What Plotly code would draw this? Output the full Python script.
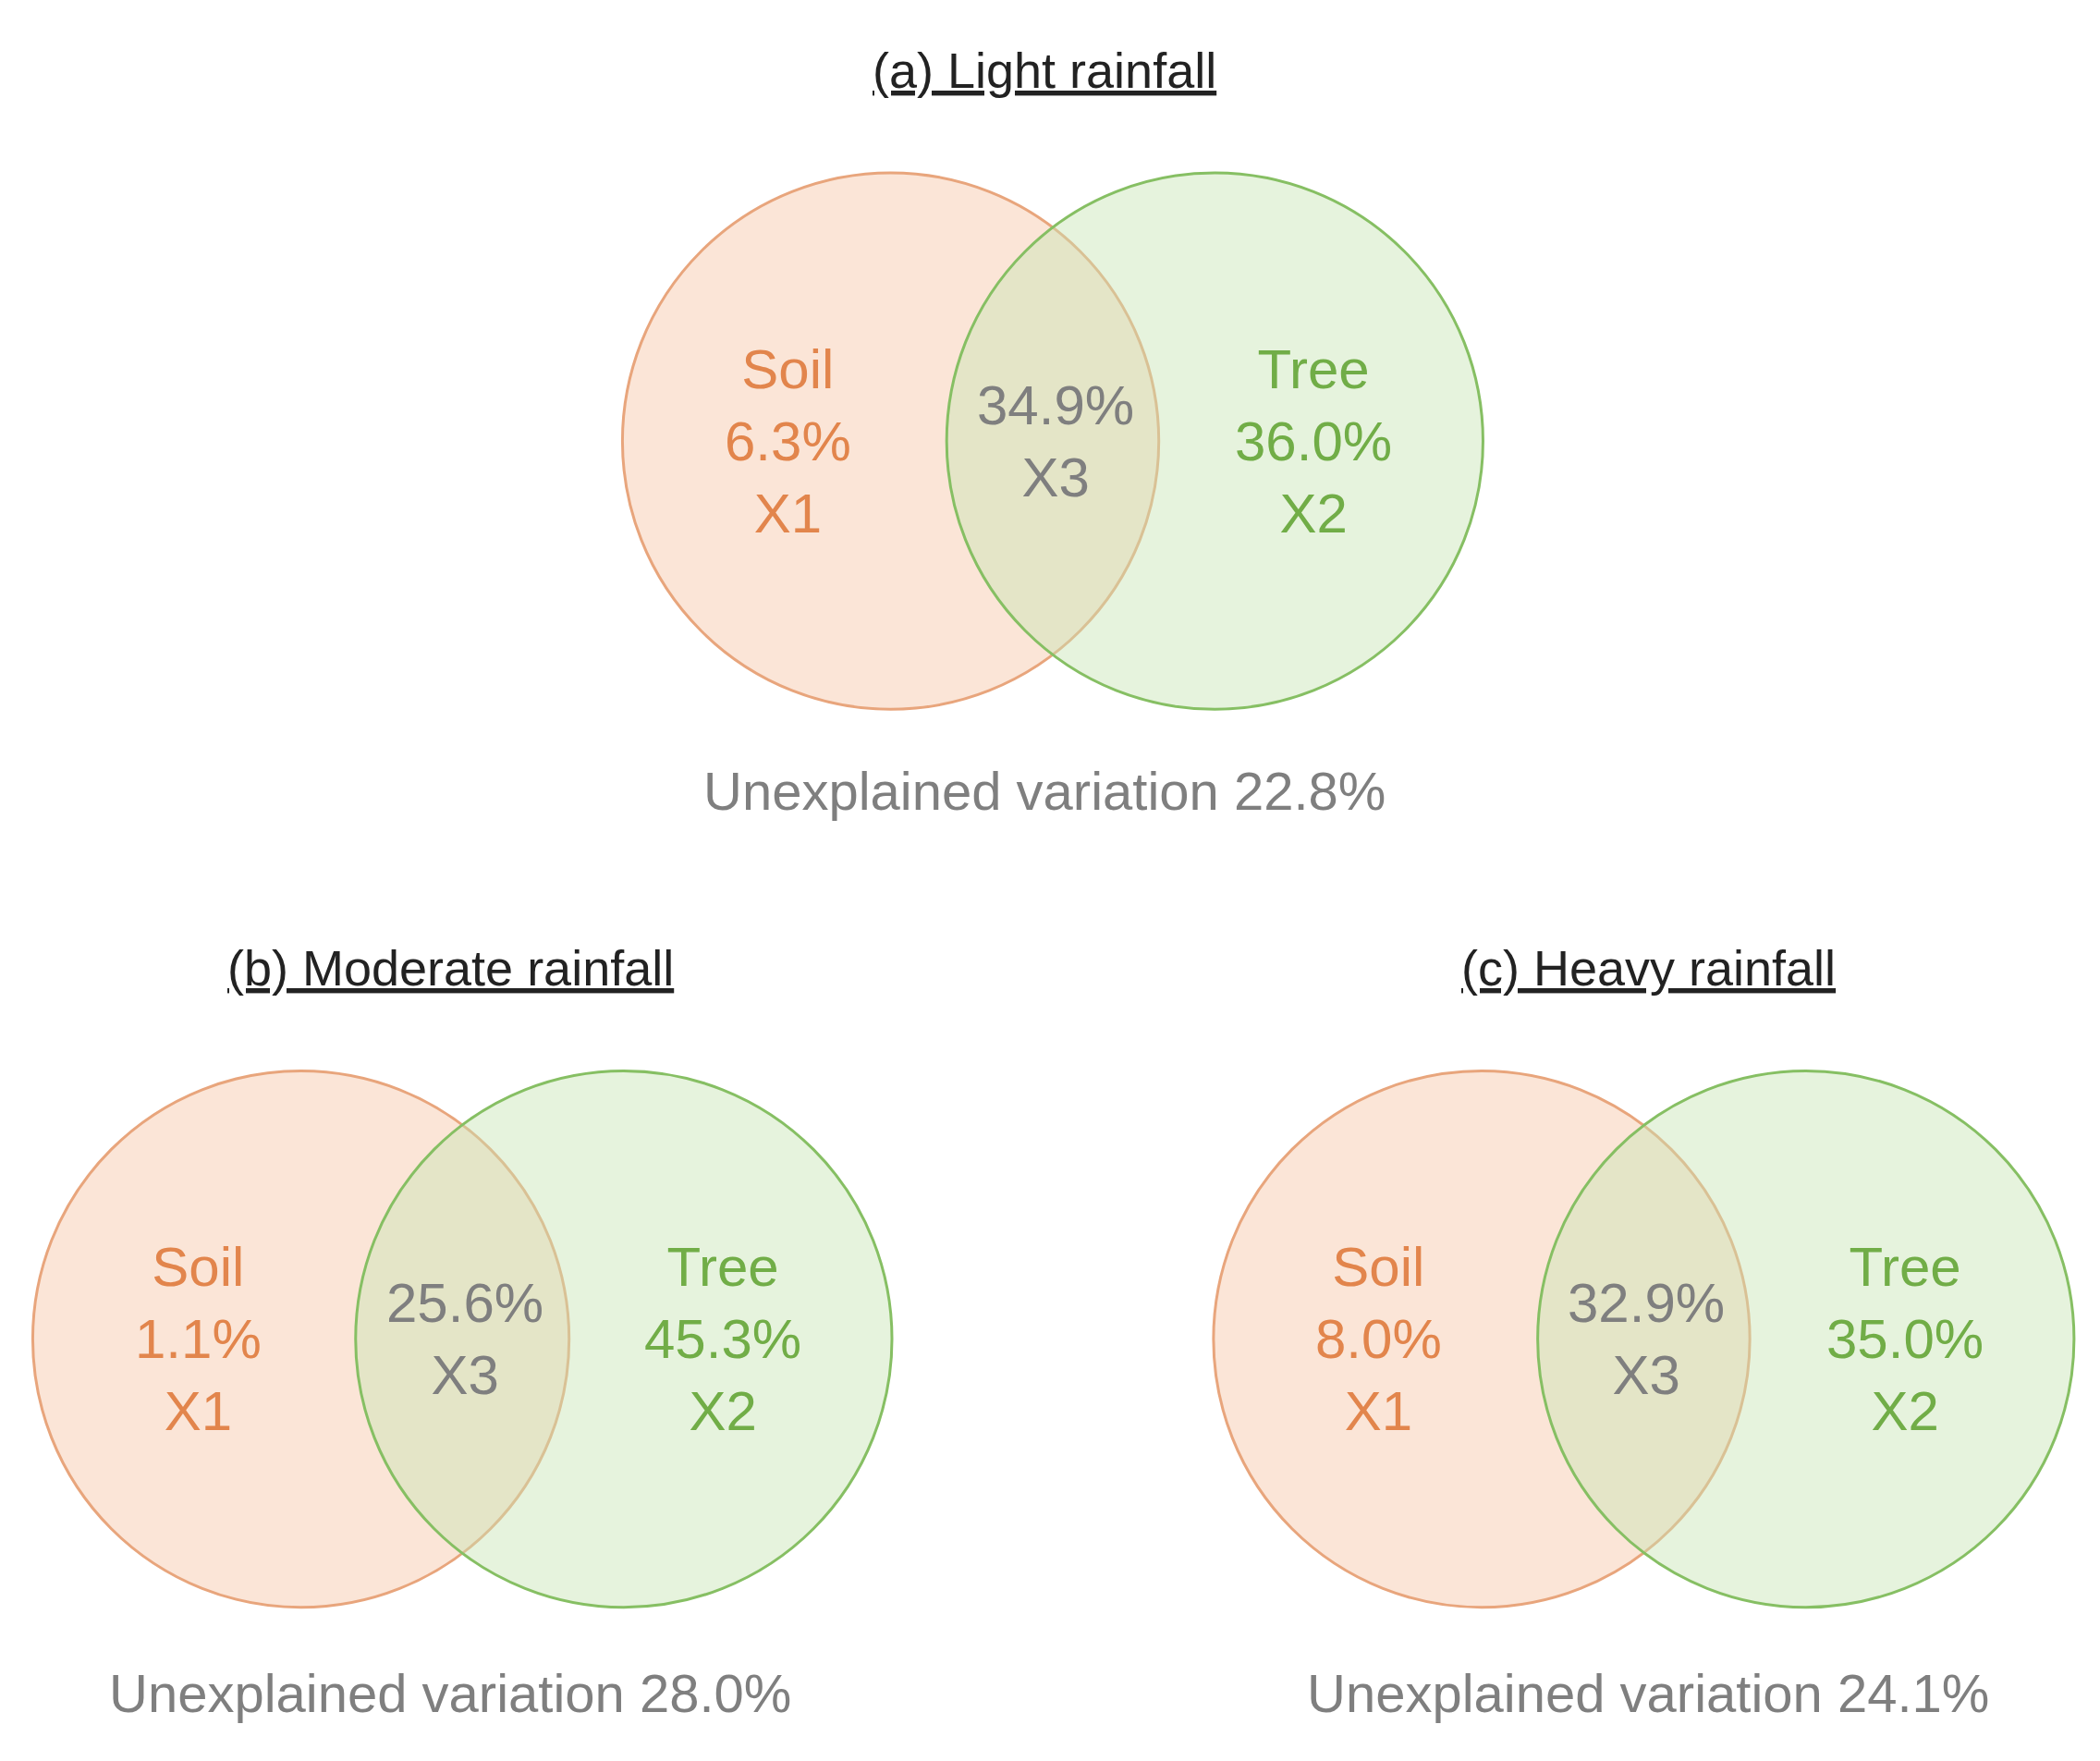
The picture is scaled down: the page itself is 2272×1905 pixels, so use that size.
import plotly.graph_objects as go

titles = ["(a) Light rainfall", "(b) Moderate rainfall", "(c) Heavy rainfall"]
soil = ["6.3%", "1.1%", "8.0%"]
shared = ["34.9%", "25.6%", "32.9%"]
tree = ["36.0%", "45.3%", "35.0%"]
unexplained = ["22.8%", "28.0%", "24.1%"]

S = 2272 / 1574
pos = [
    dict(ox=662, gx=905, cy=325, ty=47, uy=587, tx=777),
    dict(ox=220, gx=462, cy=998, ty=720, uy=1263, tx=332),
    dict(ox=1105, gx=1348, cy=998, ty=720, uy=1263, tx=1230),
]
R = 201
ORANGE = "#E2854C"
GREEN = "#71AD47"
GRAY = "#7F7F7F"
FONT = "Liberation Sans, Arial"
fs = 60

fig = go.Figure()
fig.add_trace(go.Scatter(x=[0, 2272], y=[0, 1905], mode="markers", marker=dict(opacity=0), hoverinfo="skip", showlegend=False))
shapes, ann = [], []
for i, p in enumerate(pos):
    for cx, fill, line in [(p["ox"], "rgba(248,204,176,0.5)", "#E8A57C"), (p["gx"], "rgba(200,228,180,0.45)", "#86BF63")]:
        shapes.append(dict(type="circle", xref="x", yref="y",
                           x0=(cx - R) * S, x1=(cx + R) * S, y0=(p["cy"] - R) * S, y1=(p["cy"] + R) * S,
                           fillcolor=fill, line=dict(color=line, width=3)))
    mid = (p["ox"] + p["gx"]) / 2
    ann.append(dict(x=(p["ox"] - 77) * S, y=p["cy"] * S, text=f"Soil<br>{soil[i]}<br>X1", font=dict(color=ORANGE, size=fs, family=FONT)))
    ann.append(dict(x=(mid + 2) * S, y=p["cy"] * S, text=f"{shared[i]}<br>X3", font=dict(color=GRAY, size=fs, family=FONT)))
    ann.append(dict(x=(p["gx"] + 74) * S, y=p["cy"] * S, text=f"Tree<br>{tree[i]}<br>X2", font=dict(color=GREEN, size=fs, family=FONT)))
    ann.append(dict(x=p["tx"] * S, y=p["ty"] * S, text=f"<u>{titles[i]}</u>", font=dict(color="#222222", size=54, family=FONT)))
    ann.append(dict(x=p["tx"] * S, y=p["uy"] * S, text=f"Unexplained variation {unexplained[i]}", font=dict(color=GRAY, size=58, family=FONT)))
for a in ann:
    a.update(xref="x", yref="y", showarrow=False, xanchor="center", yanchor="middle")

fig.update_layout(width=2272, height=1905, margin=dict(l=0, r=0, t=0, b=0),
                  plot_bgcolor="white", paper_bgcolor="white", shapes=shapes, annotations=ann,
                  xaxis=dict(range=[0, 2272], visible=False),
                  yaxis=dict(range=[1905, 0], visible=False))
fig.write_html("out.html")
